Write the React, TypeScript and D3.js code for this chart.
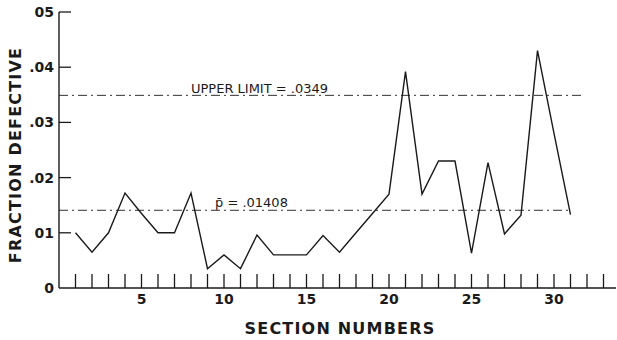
import React, { useEffect, useRef } from 'react';
import * as d3 from 'd3';

// section numbers and fraction defective
const sections = [1, 2, 3, 4, 5, 6, 7, 8, 9, 10, 11, 12, 13, 14, 15, 16, 17, 18, 19, 20, 21, 22, 23, 24, 25, 26, 27, 28, 29, 30, 31];
const fractionDefective = [
    0.0100, 0.0065, 0.0100, 0.0172, 0.0135, 0.0100, 0.0100, 0.0172, 0.0035, 0.0060,
    0.0035, 0.0096, 0.0060, 0.0060, 0.0060, 0.0095, 0.0065, 0.0100, 0.0135, 0.0170,
    0.0392, 0.0170, 0.0230, 0.0230, 0.0063, 0.0227, 0.0098, 0.0132, 0.0430, 0.0280,
    0.0133
];
const yTicks = [0, 0.01, 0.02, 0.03, 0.04, 0.05];
const yTickLabels = ['0', '01', '.02', '.03', '.04', '05'];
const xTickCount = 33;
const xLabelTicks = [5, 10, 15, 20, 25, 30];
const upperLimit = 0.0349;
const pBar = 0.01408;

export default function App() {
    const ref = useRef<SVGSVGElement>(null);

    useEffect(() => {
        if (!ref.current) return;
        const svg = d3.select(ref.current);
        svg.selectAll('*').remove();

        const font = 'DejaVu Sans, sans-serif';
        const ink = '#1a1a1a';

        const x = d3.scaleLinear().domain([0, 30]).range([59, 554]);
        const y = d3.scaleLinear().domain([0, 0.05]).range([288, 12]);

        // y axis with inward ticks
        svg.append('line')
            .attr('x1', x(0)).attr('x2', x(0))
            .attr('y1', y(0.05)).attr('y2', y(0))
            .attr('stroke', ink).attr('stroke-width', 1.4);
        yTicks.forEach((t, i) => {
            if (t > 0) {
                svg.append('line')
                    .attr('x1', x(0)).attr('x2', x(0) + 12)
                    .attr('y1', y(t)).attr('y2', y(t))
                    .attr('stroke', ink).attr('stroke-width', 1.3);
            }
            svg.append('text')
                .attr('x', x(0) - 5).attr('y', y(t))
                .attr('dy', '0.35em')
                .attr('text-anchor', 'end')
                .attr('font-family', font).attr('font-size', 14)
                .attr('font-weight', 600)
                .attr('fill', ink)
                .text(yTickLabels[i]);
        });

        // x axis with upward ticks
        svg.append('line')
            .attr('x1', x(0)).attr('x2', 616)
            .attr('y1', y(0)).attr('y2', y(0))
            .attr('stroke', ink).attr('stroke-width', 1.4);
        d3.range(1, xTickCount + 1).forEach(t => {
            svg.append('line')
                .attr('x1', x(t)).attr('x2', x(t))
                .attr('y1', y(0)).attr('y2', y(0) - 14)
                .attr('stroke', ink).attr('stroke-width', 1.3);
        });
        xLabelTicks.forEach(t => {
            svg.append('text')
                .attr('x', x(t)).attr('y', y(0) + 16)
                .attr('text-anchor', 'middle')
                .attr('font-family', font).attr('font-size', 14)
                .attr('font-weight', 600)
                .attr('fill', ink)
                .text(t);
        });

        // control lines
        const dash = '9,4,2,4';
        svg.append('line')
            .attr('x1', x(0)).attr('x2', 583)
            .attr('y1', y(upperLimit)).attr('y2', y(upperLimit))
            .attr('stroke', ink).attr('stroke-width', 0.9)
            .attr('stroke-dasharray', dash);
        svg.append('line')
            .attr('x1', x(0)).attr('x2', x(31))
            .attr('y1', y(pBar)).attr('y2', y(pBar))
            .attr('stroke', ink).attr('stroke-width', 0.9)
            .attr('stroke-dasharray', dash);

        svg.append('text')
            .attr('x', 191).attr('y', y(upperLimit) - 2)
            .attr('font-family', font).attr('font-size', 13)
            .attr('fill', ink)
            .text('UPPER LIMIT = .0349');
        const pLabel = svg.append('text')
            .attr('x', 215).attr('y', y(pBar) - 3)
            .attr('font-family', font).attr('font-size', 13)
            .attr('fill', ink);
        pLabel.append('tspan').text('p\u0304');
        pLabel.append('tspan').text(' = .01408');

        // data line
        const line = d3.line<number>()
            .x((_, i) => x(sections[i]))
            .y(d => y(d));
        svg.append('path')
            .datum(fractionDefective)
            .attr('fill', 'none')
            .attr('stroke', ink)
            .attr('stroke-width', 1.4)
            .attr('stroke-linejoin', 'miter')
            .attr('d', line);

        // axis titles
        svg.append('text')
            .attr('x', 340).attr('y', 334)
            .attr('text-anchor', 'middle')
            .attr('font-family', font).attr('font-size', 16)
            .attr('font-weight', 600)
            .attr('letter-spacing', 1.2)
            .attr('fill', ink)
            .text('SECTION NUMBERS');
        svg.append('text')
            .attr('transform', 'translate(21,155) rotate(-90)')
            .attr('text-anchor', 'middle')
            .attr('font-family', font).attr('font-size', 16)
            .attr('font-weight', 600)
            .attr('letter-spacing', 1.2)
            .attr('fill', ink)
            .text('FRACTION DEFECTIVE');
    }, []);

    return (
        <svg ref={ref} width={617} height={340}
            style={{ position: 'absolute', left: 0, top: 0, background: '#fff' }} />
    );
}
